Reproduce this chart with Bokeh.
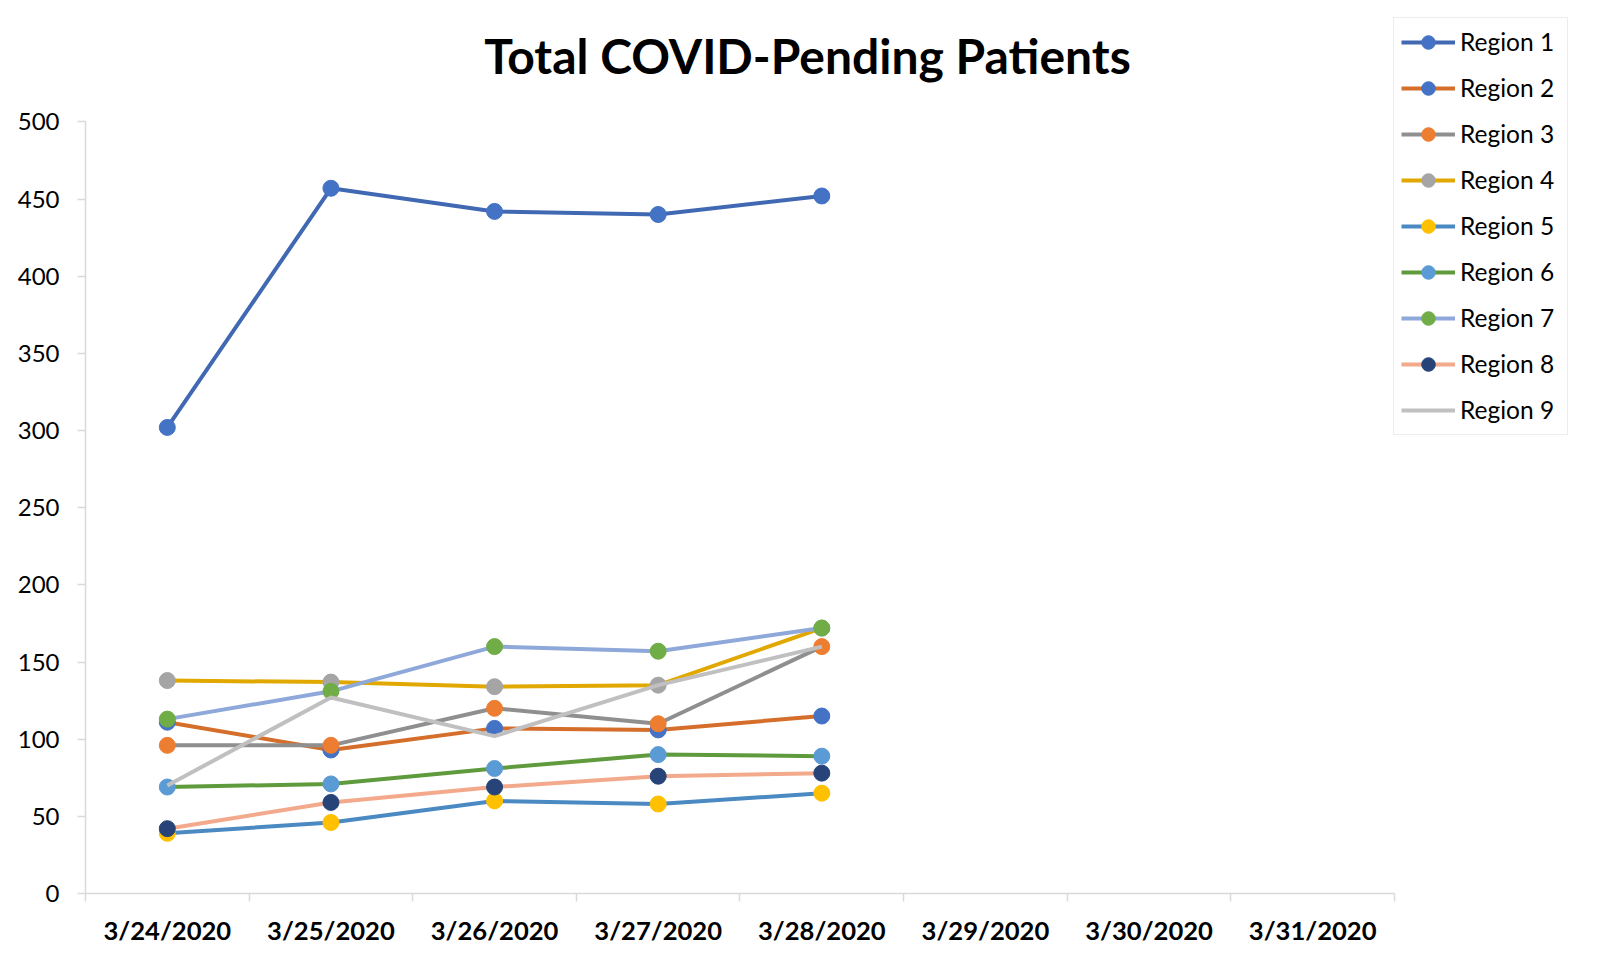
from bokeh.plotting import figure
from bokeh.models import Range1d, FixedTicker, Legend, LegendItem, Label
from bokeh.embed import file_html
from bokeh.resources import INLINE

dates = ["3/24/2020", "3/25/2020", "3/26/2020", "3/27/2020",
         "3/28/2020", "3/29/2020", "3/30/2020", "3/31/2020"]

region_names = ["Region 1", "Region 2", "Region 3", "Region 4", "Region 5",
                "Region 6", "Region 7", "Region 8", "Region 9"]

region1 = [302, 457, 442, 440, 452]
region2 = [111, 93, 107, 106, 115]
region3 = [96, 96, 120, 110, 160]
region4 = [138, 137, 134, 135, 172]
region5 = [39, 46, 60, 58, 65]
region6 = [69, 71, 81, 90, 89]
region7 = [113, 131, 160, 157, 172]
region8 = [42, 59, 69, 76, 78]
region9 = [70, 127, 102, 135, 160]

series = [region1, region2, region3, region4, region5,
          region6, region7, region8, region9]

line_colors = ["#4169B3", "#D46E2A", "#8F8F8F", "#E0A800", "#4A89C2",
               "#5F9B3D", "#8FA8DA", "#F3A98B", "#C0C0C0"]
marker_colors = ["#4472C4", "#4472C4", "#ED7D31", "#A5A5A5", "#FFC000",
                 "#5B9BD5", "#70AD47", "#264478", None]

y_ticks = list(range(0, 501, 50))

FONT = "Lato"
AXIS_COL = "#D9D9D9"

W, H = 1605, 960
p = figure(width=W, height=H, output_backend="svg", toolbar_location=None,
           x_range=Range1d(-0.5, 8.7896), y_range=Range1d(0, 570.9),
           min_border_left=85, min_border_right=0,
           min_border_top=12, min_border_bottom=67)
p.outline_line_color = None
p.xgrid.grid_line_color = None
p.ygrid.grid_line_color = None
p.background_fill_color = "white"
p.border_fill_color = "white"

# x axis
xa = p.xaxis[0]
xa.ticker = FixedTicker(ticks=list(range(len(dates))),
                        minor_ticks=[i - 0.5 for i in range(len(dates) + 1)])
xa.bounds = (-0.5, len(dates) - 0.5)
xa.major_label_overrides = {i: d for i, d in enumerate(dates)}
xa.axis_line_color = AXIS_COL
xa.axis_line_width = 1.5
xa.major_tick_out = 0
xa.major_tick_in = 0
xa.minor_tick_out = 8
xa.minor_tick_in = 0
xa.minor_tick_line_color = AXIS_COL
xa.minor_tick_line_width = 1.5
xa.major_label_text_font = FONT
xa.major_label_text_font_style = "bold"
xa.major_label_text_font_size = "25.6px"
xa.major_label_text_color = "#000000"
xa.major_label_standoff = 13

# y axis
ya = p.yaxis[0]
ya.ticker = FixedTicker(ticks=y_ticks, minor_ticks=[])
ya.bounds = (0, 500)
ya.axis_line_color = AXIS_COL
ya.axis_line_width = 1.5
ya.major_tick_out = 8
ya.major_tick_in = 0
ya.major_tick_line_color = AXIS_COL
ya.major_tick_line_width = 1.5
ya.minor_tick_line_color = None
ya.major_label_text_font = FONT
ya.major_label_text_font_size = "24px"
ya.major_label_text_color = "#000000"
ya.major_label_standoff = 18

items = []
for name, vals, lc, mc in zip(region_names, series, line_colors, marker_colors):
    xs = list(range(len(vals)))
    rs = [p.line(xs, vals, line_color=lc, line_width=4)]
    if mc is not None:
        rs.append(p.scatter(xs, vals, size=16, fill_color=mc, line_color=mc,
                            marker="circle"))
    items.append(LegendItem(label=name, renderers=rs))

legend = Legend(items=items, location=(1308, 458.5), margin=0, padding=7,
                spacing=12, glyph_width=54, glyph_height=34, label_standoff=5,
                label_text_font=FONT, label_text_font_size="24.5px",
                label_text_color="#000000", label_height=24, label_width=100,
                border_line_color=AXIS_COL, border_line_width=1.5,
                background_fill_color="white", background_fill_alpha=1.0)
p.add_layout(legend)

title = Label(x=3.9125, y=543, text="Total COVID-Pending Patients",
              text_font=FONT, text_font_style="bold", text_font_size="48px",
              text_align="center", text_baseline="middle", text_color="#000000")
p.add_layout(title)

open("out.html", "w").write(file_html(p, INLINE))
